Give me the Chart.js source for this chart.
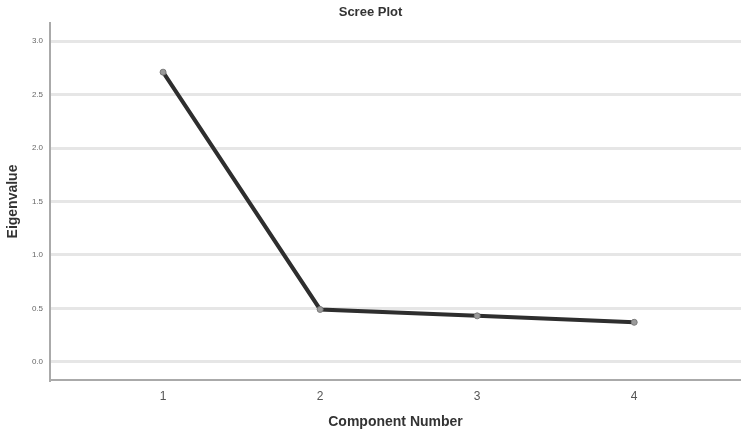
<!DOCTYPE html>
<html>
<head>
<meta charset="utf-8">
<title>Scree Plot</title>
<script src="https://cdn.jsdelivr.net/npm/chart.js@4/dist/chart.umd.min.js"></script>
<style>
  html, body { margin: 0; padding: 0; background: #fff; }
  #screeChart { display: block; }
</style>
</head>
<body>
<canvas id="screeChart" width="741" height="436"></canvas>
<script>
'use strict';

// component numbers and their eigenvalues
const components = [1, 2, 3, 4];
const eigenvalues = [2.71, 0.49, 0.43, 0.37];
const yTickValues = [0, 0.5, 1.0, 1.5, 2.0, 2.5, 3.0];

const ctx = document.getElementById('screeChart').getContext('2d');
const fontFamily = '"Liberation Sans", Arial, sans-serif';

let points = [];
for (let i = 0; i < components.length; i++) {
  points.push({ x: components[i], y: eigenvalues[i] });
}

const screeChart = new Chart(ctx, {
  type: 'line',
  data: {
    datasets: [{
      label: 'Eigenvalue',
      data: points,
      borderColor: '#2e2e2e',
      borderWidth: 4,
      pointRadius: 3,
      pointBackgroundColor: '#9a9a9a',
      pointBorderColor: '#7a7a7a',
      pointBorderWidth: 1,
      tension: 0
    }]
  },
  options: {
    responsive: false,
    animation: false,
    layout: { padding: 0, autoPadding: false },
    plugins: {
      legend: { display: false },
      tooltip: { enabled: false },
      title: {
        display: true,
        text: 'Scree Plot',
        color: '#333',
        font: { family: fontFamily, size: 13, weight: 'bold' },
        padding: { top: 5, bottom: 2.4 }
      }
    },
    scales: {
      x: {
        type: 'linear',
        min: 0.28,
        max: 4.68,
        afterBuildTicks: function (axis) {
          axis.ticks = components.map(function (c) { return { value: c }; });
        },
        afterFit: function (axis) {
          axis.height = 56;
          axis.paddingLeft = 0;
          axis.paddingRight = 0;
        },
        grid: { display: false, drawTicks: false },
        border: { display: true, color: '#aaaaaa', width: 2 },
        ticks: {
          color: '#555',
          padding: 9,
          font: { family: fontFamily, size: 12 }
        },
        title: {
          display: true,
          text: 'Component Number',
          color: '#333',
          font: { family: fontFamily, size: 14, weight: 'bold' },
          padding: { top: 0, bottom: 5 }
        }
      },
      y: {
        min: -0.17,
        max: 3.17,
        afterBuildTicks: function (axis) {
          axis.ticks = yTickValues.map(function (v) { return { value: v }; });
        },
        afterFit: function (axis) {
          axis.width = 50;
          axis.paddingTop = 0;
          axis.paddingBottom = 0;
        },
        grid: { color: '#e6e6e6', lineWidth: 3, drawTicks: false },
        border: { display: true, color: '#aaaaaa', width: 2 },
        ticks: {
          color: '#666',
          padding: 7,
          font: { family: fontFamily, size: 8 },
          callback: function (value) { return Number(value).toFixed(1); }
        },
        title: {
          display: true,
          text: 'Eigenvalue',
          color: '#333',
          font: { family: fontFamily, size: 14, weight: 'bold' },
          padding: { top: 5, bottom: 0 }
        }
      }
    }
  }
});
</script>
</body>
</html>
